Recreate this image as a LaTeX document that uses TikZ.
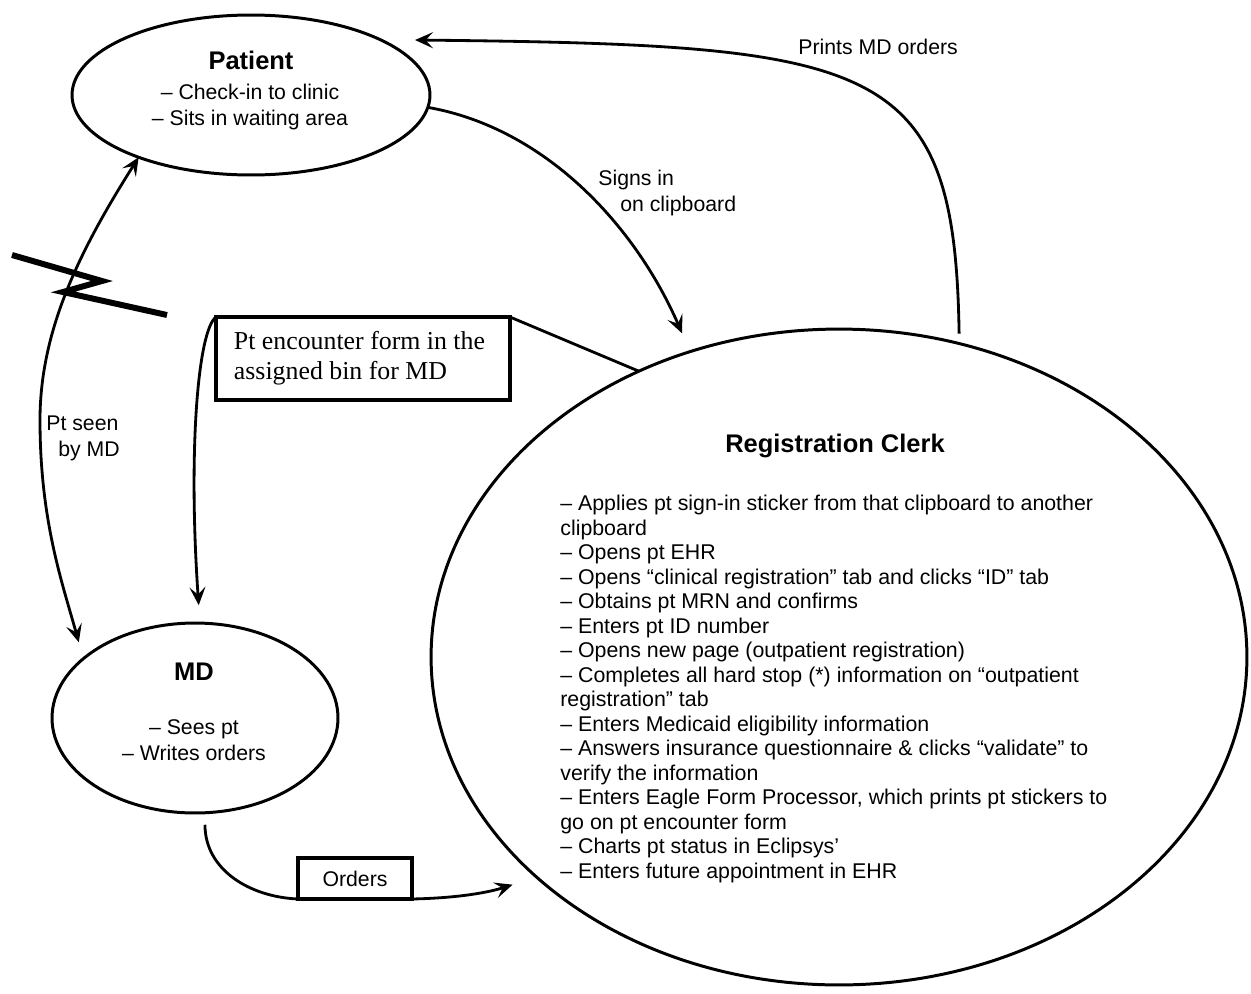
\documentclass[tikz,border=0pt]{standalone}
\usepackage{fontspec}
\setmainfont{Liberation Sans}
\newfontfamily\serifbox{Liberation Serif}
\usetikzlibrary{arrows.meta,shapes.geometric}
\tikzset{
  myarrow/.tip={Stealth[length=0.36cm,width=0.32cm,inset=0.15cm]},
  ell/.style={draw,ellipse,line width=1.7pt,inner sep=0pt,outer sep=0pt},
  boxnode/.style={draw,line width=1.8pt,inner sep=0pt,outer sep=0pt},
  conn/.style={line width=1.6pt},
  body/.style={font=\fontsize{12.1}{14.8}\selectfont,inner sep=0pt},
  listtext/.style={font=\fontsize{12.15}{13.94}\selectfont,inner sep=0pt,align=left},
  title/.style={font=\bfseries\fontsize{14.5}{17}\selectfont,inner sep=0pt},
}
\begin{document}
\begin{tikzpicture}[x=0.02cm,y=-0.02cm]
\useasboundingbox (0,0) rectangle (1251,994);

% ellipses
\node[ell,minimum width=7.16cm,minimum height=3.2cm] (patient) at (251,95) {};
\node[ell,minimum width=5.72cm,minimum height=3.8cm] (md) at (195,718) {};
\node[ell,minimum width=16.32cm,minimum height=13.12cm] (clerk) at (839,657) {};

% ellipse texts
\node[title] (patientT) at (251,60) {Patient};
\node[body,align=center] (patientB) at (250,107) {– Check-in to clinic\\– Sits in waiting area};
\node[title] (mdT) at (194,672) {MD};
\node[body,align=center] (mdB) at (194,740) {– Sees pt\\– Writes orders};
\node[title] (clerkT) at (835,446) {Registration Clerk};
\node[listtext,anchor=north west] (clerkL) at (560,495) {%
– Applies pt sign-in sticker from that clipboard to another\\
clipboard\\
– Opens pt EHR\\
– Opens “clinical registration” tab and clicks “ID” tab\\
– Obtains pt MRN and confirms\\
– Enters pt ID number\\
– Opens new page (outpatient registration)\\
– Completes all hard stop (*) information on “outpatient\\
registration” tab\\
– Enters Medicaid eligibility information\\
– Answers insurance questionnaire \& clicks “validate” to\\
verify the information\\
– Enters Eagle Form Processor, which prints pt stickers to\\
go on pt encounter form\\
– Charts pt status in Eclipsys’\\
– Enters future appointment in EHR};

% boxes
\node[boxnode,minimum width=5.88cm,minimum height=1.66cm,align=left,
      font=\serifbox\fontsize{14.7}{17.1}\selectfont] (form) at (363,358.5)
      {Pt encounter form in the\hspace*{4pt}\\assigned bin for MD};
\node[boxnode,body,minimum width=2.28cm,minimum height=0.82cm] (orders) at (355,878.5) {Orders};

% free end
\coordinate (printend) at (415,40);

% connectors
\draw[conn,-{myarrow},shorten >=0.4cm] (patient.-4) .. controls (545,128) and (635,225) .. (clerk.116);
\draw[conn,-{myarrow},shorten <=0.2cm] (clerk.69) .. controls (955,60) and (880,45) .. (printend);
\draw[conn,{myarrow}-{myarrow},shorten >=0.34cm] (patient.209) .. controls (80,250) and (40,330) .. (40,420)
      .. controls (40,520) and (62,582) .. (md.152);
\draw[conn,-{myarrow},shorten >=0.36cm] (clerk.125) -- (form.north east) -- (form.north west)
      .. controls (198,330) and (188,450) .. (md.87);
\draw[conn,-{myarrow},shorten <=0.24cm,shorten >=0.5cm] (md.-84) .. controls (205,870) and (250,897) .. (orders.south west)
      -- (orders.south east) .. controls (460,898) and (490,892) .. (clerk.216);

% break mark
\draw[line width=3.4pt] (12,255) -- (102,281) -- (63,292) -- (167,315);

% labels
\node[body,anchor=west] (printsL) at (798,47) {Prints MD orders};
\node[body,align=left,anchor=west] (signsL) at (598,193) {Signs in\\\hspace*{12.5pt}on clipboard};
\node[body,align=left,anchor=west] (seenL) at (46,438) {Pt seen\\\hspace*{6.8pt}by MD};
\end{tikzpicture}
\end{document}
